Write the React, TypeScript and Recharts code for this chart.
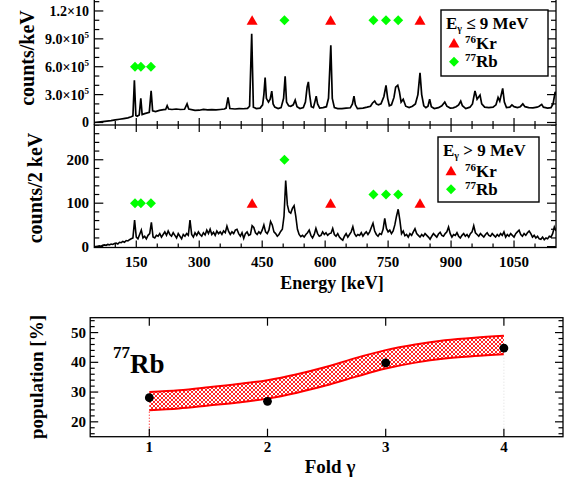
import React from "react";
import {
    ComposedChart,
    Line,
    Scatter,
    Area,
    XAxis,
    YAxis,
    ReferenceLine,
} from "recharts";

const FONT = "'Liberation Serif', 'Times New Roman', serif";
const RED = "#ff0000";
const GREEN = "#00ff00";

// spectrum E_gamma <= 9 MeV: energy [keV] and counts/keV (in thousands)
const lowEnergy = [
    50, 60, 70, 80, 90, 100, 110, 120, 130, 138, 142, 145.5, 149, 152, 157, 160.8, 164, 170, 181, 185.4,
    189, 196, 205, 215, 220, 223.6, 227, 235, 245, 255, 265, 271, 275, 290, 300, 310, 320, 330, 340, 350,
    360, 364, 368.6, 373, 385, 395, 405, 415, 420, 425, 429, 436, 445, 451, 454, 457, 460, 465, 469, 472.8,
    476, 480, 488, 495, 501, 504.7, 508, 513, 518, 524, 528.6, 533, 540, 548, 553, 557, 560, 563, 567, 572,
    576, 578.7, 582, 587, 595, 603, 608, 613.5, 617, 622, 630, 640, 650, 660, 665, 668.7, 672, 677, 690, 700,
    708, 713, 718, 722, 727, 733, 740, 745, 749, 753, 758, 764, 768, 773, 777, 781, 786, 792, 800, 808,
    815, 821, 826, 830, 835, 840, 845, 849, 853, 860, 870, 878, 885, 890, 898, 905, 912, 918, 923, 927,
    935, 945, 951, 957, 962, 969, 973, 980, 990, 1000, 1007, 1012, 1016, 1023, 1027, 1032, 1040, 1045, 1050, 1058,
    1065, 1071, 1076, 1085, 1095, 1105, 1110, 1116, 1120, 1130, 1138, 1143, 1148, 1150,
];
const lowCountsK = [
    0, 5, 10, 15, 20, 28, 35, 42, 50, 62, 70, 455, 75, 68, 80, 260, 85, 95, 110, 340,
    125, 118, 130, 138, 140, 180, 145, 140, 145, 140, 142, 200, 145, 130, 132, 140, 135, 138, 135, 140,
    145, 155, 270, 150, 145, 150, 148, 152, 175, 955, 165, 150, 155, 190, 300, 484, 260, 220, 250, 337,
    200, 165, 150, 160, 260, 498, 220, 180, 175, 190, 240, 170, 150, 160, 220, 380, 437, 300, 170, 160,
    230, 284, 200, 155, 160, 170, 260, 830, 260, 160, 150, 150, 155, 158, 200, 284, 190, 150, 155, 165,
    175, 210, 230, 200, 190, 200, 280, 400, 260, 180, 190, 270, 380, 400, 330, 220, 250, 175, 160, 175,
    200, 300, 534, 300, 180, 160, 175, 250, 170, 150, 160, 180, 220, 175, 155, 158, 170, 190, 230, 180,
    150, 165, 200, 340, 250, 295, 200, 165, 160, 165, 190, 270, 230, 366, 220, 160, 165, 190, 170, 160,
    170, 200, 170, 160, 158, 165, 175, 195, 165, 155, 160, 200, 330, 300,
];

// spectrum E_gamma > 9 MeV: counts / 2 keV, read every 4 keV starting at 50 keV
const highStart = 50;
const highStep = 4;
const highCounts = [
    0, 0, 1, 2, 1, 3, 4, 3, 5, 4, 6, 5, 7, 8, 6, 10, 9, 12, 10, 14, 13, 16, 18, 20, 61,
    22, 18, 28, 38, 20, 24, 18, 26, 30, 56, 22, 20, 26, 24, 30, 22, 28, 34, 26, 36, 28, 24, 32, 26, 20,
    30, 24, 18, 28, 24, 30, 26, 61, 28, 22, 32, 26, 34, 28, 24, 32, 27, 38, 30, 40, 28, 33, 26, 36, 30,
    34, 28, 36, 32, 47, 35, 28, 34, 30, 38, 40, 30, 24, 32, 19, 30, 34, 26, 28, 48, 44, 32, 28, 34, 30,
    38, 50, 34, 30, 38, 58, 50, 34, 30, 24, 28, 35, 40, 70, 152, 96, 80, 77, 88, 94, 70, 40, 28, 23, 26,
    22, 28, 32, 38, 26, 20, 28, 42, 30, 24, 26, 34, 28, 32, 26, 30, 31, 42, 28, 24, 30, 22, 18, 15, 24,
    30, 22, 28, 34, 46, 30, 24, 28, 26, 32, 24, 30, 34, 28, 34, 44, 54, 36, 28, 24, 30, 28, 40, 65, 42,
    34, 38, 30, 36, 50, 70, 86, 61, 30, 36, 25, 28, 22, 30, 26, 34, 41, 30, 26, 22, 28, 24, 30, 26, 22,
    17, 24, 30, 26, 22, 29, 33, 26, 24, 30, 34, 45, 30, 22, 28, 26, 32, 24, 20, 26, 30, 24, 28, 22, 30,
    34, 48, 32, 28, 24, 30, 26, 22, 28, 32, 26, 24, 30, 26, 22, 28, 24, 30, 26, 34, 22, 28, 24, 30, 26,
    22, 30, 34, 38, 28, 24, 30, 26, 32, 36, 30, 22, 26, 20, 24, 18, 17, 22, 16, 20, 18, 24, 22, 30, 45,
    36,
];

// line markers
const krEnergy = [426, 613, 826];
const rbEnergy = [147, 161, 185, 503, 715, 745, 774];
const krLowY = [1100, 1100, 1100];
const rbLowY = [600, 600, 600, 1100, 1100, 1100, 1100];
const krHighY = [100, 100, 100];
const rbHighY = [100, 100, 100, 200, 120, 120, 120];

// population of 77Rb vs fold
const folds = [1, 2, 3, 4];
const population = [28.1, 26.9, 39.8, 44.8];
const bandFold = [1, 1.25, 1.5, 1.75, 2, 2.25, 2.5, 2.75, 3, 3.25, 3.5, 3.75, 4];
const bandLow = [23.9, 24.5, 25.5, 26.5, 27.8, 29.8, 32.3, 35.2, 37.9, 39.9, 41.3, 42.1, 42.7];
const bandHigh = [30.0, 30.6, 31.6, 32.7, 34.0, 36.0, 38.5, 41.5, 44.1, 46.0, 47.4, 48.3, 48.9];

// ticks
const specTicks = [100, 150, 200, 250, 300, 350, 400, 450, 500, 550, 600, 650, 700, 750, 800, 850, 900, 950, 1000, 1050, 1100];
const lowYTicks = [0, 100, 200, 300, 400, 500, 600, 700, 800, 900, 1000, 1100, 1200, 1300];
const lowYLabels: Record<number, [string, string]> = {
    0: ["0", ""],
    300: ["3.0×10", "5"],
    600: ["6.0×10", "5"],
    900: ["9.0×10", "5"],
    1200: ["1.2×10", ""],
};
const highYTicks = [0, 20, 40, 60, 80, 100, 120, 140, 160, 180, 200, 220, 240, 260, 280];
const popYTicks = [16, 18, 20, 22, 24, 26, 28, 30, 32, 34, 36, 38, 40, 42, 44, 46, 48, 50, 52, 54];

// data tables
const lowData = lowEnergy.map((e, i) => ({ e, v: lowCountsK[i] }));
const highData = highCounts.map((v, i) => ({ e: highStart + i * highStep, v }));
const krLow = krEnergy.map((e, i) => ({ e, y: krLowY[i] }));
const rbLow = rbEnergy.map((e, i) => ({ e, y: rbLowY[i] }));
const krHigh = krEnergy.map((e, i) => ({ e, y: krHighY[i] }));
const rbHigh = rbEnergy.map((e, i) => ({ e, y: rbHighY[i] }));
const bandData = bandFold.map((f, i) => ({ f, band: [bandLow[i], bandHigh[i]] }));
const popData = folds.map((f, i) => ({ f, p: population[i] }));

// layout (page px)
const SPEC_L = 94.3;
const SPEC_R = 556;
const TOP_B = 125;
const MID_TOP = 125;
const MID_B = 122.5; // in middle chart coords
const POP_TOP = 300;
const POP_L = 90.2;
const POP_R = 563;
const POP_T = 17.7; // in bottom chart coords
const POP_B = 136.7;

const txt = { fontFamily: FONT, fontWeight: "bold" as const, fill: "#000" };

function Tri(p: any) {
    const { cx, cy } = p;
    return <polygon points={`${cx - 5.5},${cy + 4.5} ${cx + 5.5},${cy + 4.5} ${cx},${cy - 5}`} fill={RED} />;
}
function Dia(p: any) {
    const { cx, cy } = p;
    return <polygon points={`${cx},${cy - 5} ${cx + 5},${cy} ${cx},${cy + 5} ${cx - 5},${cy}`} fill={GREEN} />;
}
function Dot(p: any) {
    return <circle cx={p.cx} cy={p.cy} r={4.4} fill="#000" />;
}

function LowXTick({ x, payload }: any) {
    const len = payload.value % 150 === 0 ? 7 : 4;
    return <line x1={x} x2={x} y1={TOP_B} y2={TOP_B - len} stroke="#000" strokeWidth={1.2} />;
}

function LowYTick({ y, payload }: any) {
    const v = payload.value;
    const len = v % 300 === 0 ? 9 : 5;
    const lab = lowYLabels[v];
    return (
        <g>
            <line x1={SPEC_L} x2={SPEC_L + len} y1={y} y2={y} stroke="#000" strokeWidth={1.2} />
            <line x1={SPEC_R - len} x2={SPEC_R} y1={y} y2={y} stroke="#000" strokeWidth={1.2} />
            {lab && (
                <text x={89} y={y + 5} textAnchor="end" fontSize={14} {...txt}>
                    {lab[0]}
                    {lab[1] && (
                        <tspan dy={-6} fontSize={9}>
                            {lab[1]}
                        </tspan>
                    )}
                </text>
            )}
        </g>
    );
}

function HighXTick({ x, payload }: any) {
    const v = payload.value;
    const major = v % 150 === 0;
    const len = major ? 7 : 4;
    return (
        <g>
            <line x1={x} x2={x} y1={MID_B} y2={MID_B - len} stroke="#000" strokeWidth={1.2} />
            <line x1={x} x2={x} y1={0} y2={len} stroke="#000" strokeWidth={1.2} />
            {major && (
                <text x={x} y={MID_B + 19.5} textAnchor="middle" fontSize={15} {...txt}>
                    {v}
                </text>
            )}
        </g>
    );
}

function HighYTick({ y, payload }: any) {
    const v = payload.value;
    const major = v % 100 === 0;
    const len = major ? 9 : 5;
    return (
        <g>
            <line x1={SPEC_L} x2={SPEC_L + len} y1={y} y2={y} stroke="#000" strokeWidth={1.2} />
            <line x1={SPEC_R - len} x2={SPEC_R} y1={y} y2={y} stroke="#000" strokeWidth={1.2} />
            {major && (
                <text x={89} y={y + 5} textAnchor="end" fontSize={15} {...txt}>
                    {v}
                </text>
            )}
        </g>
    );
}

function PopXTick({ x, payload }: any) {
    return (
        <g>
            <line x1={x} x2={x} y1={POP_B} y2={POP_B - 8} stroke="#000" strokeWidth={1.2} />
            <line x1={x} x2={x} y1={POP_T} y2={POP_T + 8} stroke="#000" strokeWidth={1.2} />
            <text x={x} y={POP_B + 15.5} textAnchor="middle" fontSize={15} {...txt}>
                {payload.value}
            </text>
        </g>
    );
}

function PopYTick({ y, payload }: any) {
    const v = payload.value;
    const major = v % 10 === 0;
    const len = major ? 8 : 4.5;
    return (
        <g>
            <line x1={POP_L} x2={POP_L + len} y1={y} y2={y} stroke="#000" strokeWidth={1.2} />
            <line x1={POP_R - len} x2={POP_R} y1={y} y2={y} stroke="#000" strokeWidth={1.2} />
            {major && (
                <text x={86} y={y + 5} textAnchor="end" fontSize={15} {...txt}>
                    {v}
                </text>
            )}
        </g>
    );
}

function LegendBox({ x, y, w, h, title, rows }: any) {
    return (
        <g>
            <rect x={x} y={y} width={w} height={h} fill="#fff" stroke="#000" strokeWidth={1.4} />
            {title}
            {rows}
        </g>
    );
}

export default function App() {
    return (
        <div style={{ position: "absolute", left: 0, top: 0, width: 566, height: 489, background: "#fff" }}>
            {/* top: E_gamma <= 9 MeV */}
            <div style={{ position: "absolute", left: 0, top: 0 }}>
                <ComposedChart width={566} height={140} data={lowData} margin={{ top: 0, right: 10, left: 0, bottom: 0 }}>
                    <XAxis
                        dataKey="e"
                        type="number"
                        domain={[50, 1150]}
                        allowDataOverflow
                        ticks={specTicks}
                        interval={0}
                        tick={LowXTick}
                        tickLine={false}
                        axisLine={false}
                        tickSize={0}
                        tickMargin={0}
                        height={15}
                    />
                    <YAxis
                        type="number"
                        domain={[-27, 1318]}
                        allowDataOverflow
                        ticks={lowYTicks}
                        interval={0}
                        tick={LowYTick}
                        tickLine={false}
                        axisLine={false}
                        tickSize={0}
                        tickMargin={0}
                        width={SPEC_L}
                    />
                    <Line dataKey="v" type="linear" stroke="#000" strokeWidth={1.7} dot={false} isAnimationActive={false} />
                    <Scatter data={krLow} dataKey="y" shape={Tri} isAnimationActive={false} />
                    <Scatter data={rbLow} dataKey="y" shape={Dia} isAnimationActive={false} />
                </ComposedChart>
            </div>

            {/* middle: E_gamma > 9 MeV */}
            <div style={{ position: "absolute", left: 0, top: MID_TOP }}>
                <ComposedChart width={566} height={175} data={highData} margin={{ top: 0, right: 10, left: 0, bottom: 0 }}>
                    <XAxis
                        dataKey="e"
                        type="number"
                        domain={[50, 1150]}
                        allowDataOverflow
                        ticks={specTicks}
                        interval={0}
                        tick={HighXTick}
                        tickLine={false}
                        axisLine={false}
                        tickSize={0}
                        tickMargin={0}
                        height={175 - MID_B}
                    />
                    <YAxis
                        type="number"
                        domain={[-2, 280]}
                        allowDataOverflow
                        ticks={highYTicks}
                        interval={0}
                        tick={HighYTick}
                        tickLine={false}
                        axisLine={false}
                        tickSize={0}
                        tickMargin={0}
                        width={SPEC_L}
                    />
                    <Line dataKey="v" type="linear" stroke="#000" strokeWidth={1.6} dot={false} isAnimationActive={false} />
                    <Scatter data={krHigh} dataKey="y" shape={Tri} isAnimationActive={false} />
                    <Scatter data={rbHigh} dataKey="y" shape={Dia} isAnimationActive={false} />
                </ComposedChart>
            </div>

            {/* bottom: population vs fold */}
            <div style={{ position: "absolute", left: 0, top: POP_TOP }}>
                <ComposedChart width={566} height={160} margin={{ top: POP_T, right: 566 - POP_R, left: 0, bottom: 0 }}>
                    <defs>
                        <pattern id="hatch" width="4" height="4" patternUnits="userSpaceOnUse">
                            <rect width="4" height="4" fill="#fff" />
                            <path d="M0,0 L4,4 M4,0 L0,4" stroke={RED} strokeWidth={0.85} />
                        </pattern>
                    </defs>
                    <XAxis
                        dataKey="f"
                        type="number"
                        domain={[0.5, 4.5]}
                        allowDataOverflow
                        ticks={folds}
                        interval={0}
                        tick={PopXTick}
                        tickLine={false}
                        axisLine={false}
                        tickSize={0}
                        tickMargin={0}
                        height={160 - POP_B}
                    />
                    <YAxis
                        type="number"
                        domain={[15, 55]}
                        allowDataOverflow
                        ticks={popYTicks}
                        interval={0}
                        tick={PopYTick}
                        tickLine={false}
                        axisLine={false}
                        tickSize={0}
                        tickMargin={0}
                        width={POP_L}
                    />
                    <ReferenceLine segment={[{ x: 1, y: 15 }, { x: 1, y: 23.9 }]} stroke={RED} strokeDasharray="1 2" />
                    <ReferenceLine segment={[{ x: 4, y: 15 }, { x: 4, y: 42.7 }]} stroke="#ddd" strokeDasharray="1 2" />
                    <Area
                        data={bandData}
                        dataKey="band"
                        type="monotone"
                        stroke={RED}
                        strokeWidth={2}
                        fill="url(#hatch)"
                        fillOpacity={1}
                        isAnimationActive={false}
                    />
                    <Scatter data={popData} dataKey="p" shape={Dot} isAnimationActive={false} />
                </ComposedChart>
            </div>

            {/* frames, titles, legends */}
            <svg width={566} height={489} style={{ position: "absolute", left: 0, top: 0, pointerEvents: "none" }}>
                <g stroke="#000" strokeWidth={1.3} fill="none">
                    <line x1={SPEC_L} y1={0} x2={SPEC_L} y2={TOP_B} />
                    <line x1={SPEC_R} y1={0} x2={SPEC_R} y2={TOP_B} />
                    <rect x={SPEC_L} y={MID_TOP} width={SPEC_R - SPEC_L} height={MID_B} />
                    <rect x={POP_L} y={POP_TOP + POP_T} width={POP_R - POP_L} height={POP_B - POP_T} />
                </g>

                <text transform="translate(27,58) rotate(-90)" textAnchor="middle" dominantBaseline="central" fontSize={20} {...txt}>
                    counts/keV
                </text>
                <text transform="translate(35,188) rotate(-90)" textAnchor="middle" dominantBaseline="central" fontSize={20} {...txt}>
                    counts/2 keV
                </text>
                <text x={332} y={289} textAnchor="middle" fontSize={18} {...txt}>
                    Energy [keV]
                </text>
                <text transform="translate(36,377) rotate(-90)" textAnchor="middle" dominantBaseline="central" fontSize={19} {...txt}>
                    population [%]
                </text>
                <text x={330} y={473} textAnchor="middle" fontSize={19} {...txt}>
                    Fold γ
                </text>
                <text x={113} y={373} {...txt}>
                    <tspan fontSize={17} dy={-15}>77</tspan>
                    <tspan fontSize={27} dy={15}>Rb</tspan>
                </text>

                <LegendBox
                    x={441}
                    y={10}
                    w={107}
                    h={66}
                    title={
                        <text x={446} y={29} fontSize={17} {...txt}>
                            E<tspan fontSize={10} dy={3}>γ</tspan>
                            <tspan dy={-3}> ≤ 9 MeV</tspan>
                        </text>
                    }
                    rows={
                        <g>
                            <Tri cx={454} cy={43} />
                            <text x={465} y={48.5} fontSize={17} {...txt}>
                                <tspan fontSize={11} dy={-6}>76</tspan>
                                <tspan dy={6}>Kr</tspan>
                            </text>
                            <Dia cx={454} cy={61.7} />
                            <text x={465} y={67} fontSize={17} {...txt}>
                                <tspan fontSize={11} dy={-6}>77</tspan>
                                <tspan dy={6}>Rb</tspan>
                            </text>
                        </g>
                    }
                />
                <LegendBox
                    x={438}
                    y={137}
                    w={101}
                    h={65}
                    title={
                        <text x={443} y={156} fontSize={17} {...txt}>
                            E<tspan fontSize={10} dy={3}>γ</tspan>
                            <tspan dy={-3}> &gt; 9 MeV</tspan>
                        </text>
                    }
                    rows={
                        <g>
                            <Tri cx={451} cy={170.7} />
                            <text x={465} y={176.5} fontSize={17} {...txt}>
                                <tspan fontSize={11} dy={-6}>76</tspan>
                                <tspan dy={6}>Kr</tspan>
                            </text>
                            <Dia cx={451} cy={189.3} />
                            <text x={465} y={195} fontSize={17} {...txt}>
                                <tspan fontSize={11} dy={-6}>77</tspan>
                                <tspan dy={6}>Rb</tspan>
                            </text>
                        </g>
                    }
                />
            </svg>
        </div>
    );
}
